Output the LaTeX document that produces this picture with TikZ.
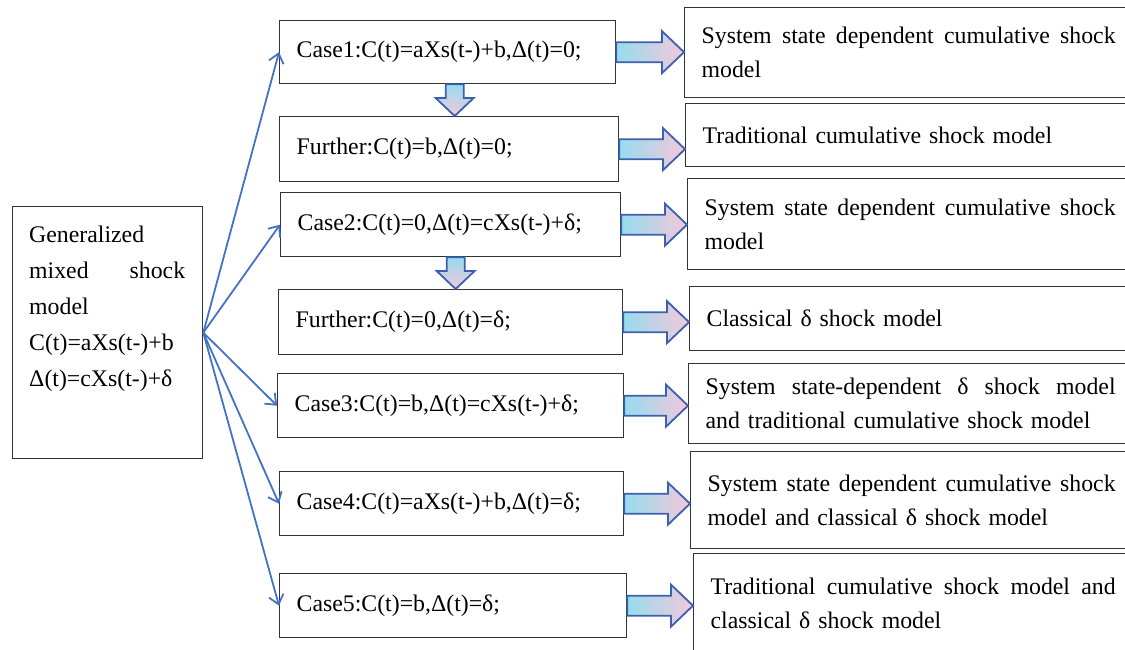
\documentclass[tikz,border=0pt]{standalone}
\usepackage{fontspec}
\setmainfont{Liberation Serif}
\usetikzlibrary{calc}
\usetikzlibrary{arrows.meta}

% horizontal block arrow from a case box to its model box
\newcommand{\fatarrowright}[2]{%
  \path[fatarrow] let \p1=(#1.east), \p2=(#2.west) in
    (\x1,\y1-10) -- (\x2-22,\y1-10) -- (\x2-22,\y1-21) -- (\x2,\y1)
    -- (\x2-22,\y1+21) -- (\x2-22,\y1+10) -- (\x1,\y1+10) -- cycle;}
% vertical block arrow from a coordinate down to a box
\newcommand{\fatarrowdown}[2]{%
  \path[fatarrowv] let \p1=(#1), \p2=(#2.north) in
    (\x1-9,\y1) -- (\x1-9,\y2+18) -- (\x1-19,\y2+18) -- (\x1,\y2)
    -- (\x1+19,\y2+18) -- (\x1+9,\y2+18) -- (\x1+9,\y1) -- cycle;}

\begin{document}
\begin{tikzpicture}[x=1pt,y=-1pt]

\colorlet{framecolor}{black!80}
\definecolor{linkblue}{RGB}{68,114,196}
\definecolor{fatcontour}{RGB}{60,96,176}
\definecolor{fatleft}{RGB}{150,220,238}
\definecolor{fatright}{RGB}{244,200,218}

\tikzset{
  every node/.style={font=\fontsize{23.8}{34}\selectfont},
  genbox/.style={draw=framecolor,line width=1.3pt,anchor=north west},
  gentext/.style={anchor=north west,inner sep=0pt,text width=156pt,align=left,
    font=\fontsize{23.8}{36}\selectfont},
  casebox/.style={draw=framecolor,line width=1.3pt,anchor=north west,
    inner xsep=17pt,align=left},
  modelbox/.style={draw=framecolor,line width=1.3pt,anchor=north west,
    inner xsep=17pt,align=left},
  link/.style={draw=linkblue,line width=1.8pt,-{Straight Barb[length=9pt,width=15pt]}},
  fatarrow/.style={draw=fatcontour,line width=1.8pt,left color=fatleft,right color=fatright},
  fatarrowv/.style={draw=fatcontour,line width=1.8pt,top color=fatleft,bottom color=fatright}
}

\useasboundingbox (0,0) rectangle (1125,649);
\clip (0,0) rectangle (1125,649);

% GENERALIZED MODEL
\node[genbox,minimum width=190pt,minimum height=252pt] (gen) at (12,206) {};
\node[gentext] (gentxt) at ($(gen.north west)+(17,20)$)
  {Generalized\\ mixed\hfill shock\\ model\\ C(t)=aXs(t-)+b\\ Δ(t)=cXs(t-)+δ};

% CASES
\node[casebox,minimum height=63pt,text width=302pt] (c1) at (279,20) {Case1:C(t)=aXs(t-)+b,Δ(t)=0;};
\node[casebox,minimum height=65pt,text width=305pt] (f1) at (279,116) {Further:C(t)=b,Δ(t)=0;};
\node[casebox,minimum height=64pt,text width=306pt] (c2) at (280,192) {Case2:C(t)=0,Δ(t)=cXs(t-)+δ;};
\node[casebox,minimum height=65pt,text width=310pt] (f2) at (278,289) {Further:C(t)=0,Δ(t)=δ;};
\node[casebox,minimum height=64pt,text width=312pt] (c3) at (277,373) {Case3:C(t)=b,Δ(t)=cXs(t-)+δ;};
\node[casebox,minimum height=64pt,text width=310pt] (c4) at (279,471) {Case4:C(t)=aXs(t-)+b,Δ(t)=δ;};
\node[casebox,minimum height=64pt,text width=313pt] (c5) at (279,573) {Case5:C(t)=b,Δ(t)=δ;};

% MODELS
\node[modelbox,minimum height=90pt,text width=414pt] (r1) at (684,7)
  {System\hfill state\hfill dependent\hfill cumulative\hfill shock\\ model};
\node[modelbox,minimum height=63pt,text width=413pt] (r2) at (685,103)
  {Traditional cumulative shock model};
\node[modelbox,minimum height=91pt,text width=411pt] (r3) at (687,178)
  {System\hfill state\hfill dependent\hfill cumulative\hfill shock\\ model};
\node[modelbox,minimum height=64pt,text width=409pt] (r4) at (689,286)
  {Classical δ shock model};
\node[modelbox,minimum height=80pt,text width=410pt] (r5) at (688,363)
  {System\hfill state-dependent\hfill δ\hfill shock\hfill model\\ and traditional cumulative shock model};
\node[modelbox,minimum height=97pt,text width=408pt] (r6) at (690,451)
  {System\hfill state\hfill dependent\hfill cumulative\hfill shock\\ model and classical δ shock model};
\node[modelbox,minimum height=100pt,text width=405pt] (r7) at (693,553)
  {Traditional\hfill cumulative\hfill shock\hfill model\hfill and\\ classical δ shock model};

% LINKS FROM THE GENERALIZED MODEL
\draw[link] (gen.east) -- (c1.west);
\draw[link] (gen.east) -- (c2.west);
\draw[link] (gen.east) -- (c3.west);
\draw[link] (gen.east) -- (c4.west);
\draw[link] (gen.east) -- (c5.west);

% BLOCK ARROWS
\fatarrowright{c1}{r1}
\fatarrowright{f1}{r2}
\fatarrowright{c2}{r3}
\fatarrowright{f2}{r4}
\fatarrowright{c3}{r5}
\fatarrowright{c4}{r6}
\fatarrowright{c5}{r7}

\coordinate (d1) at ($(c1.south)+(7,0)$);
\coordinate (d2) at ($(c2.south)+(5,0)$);
\fatarrowdown{d1}{f1}
\fatarrowdown{d2}{f2}

\end{tikzpicture}
\end{document}
